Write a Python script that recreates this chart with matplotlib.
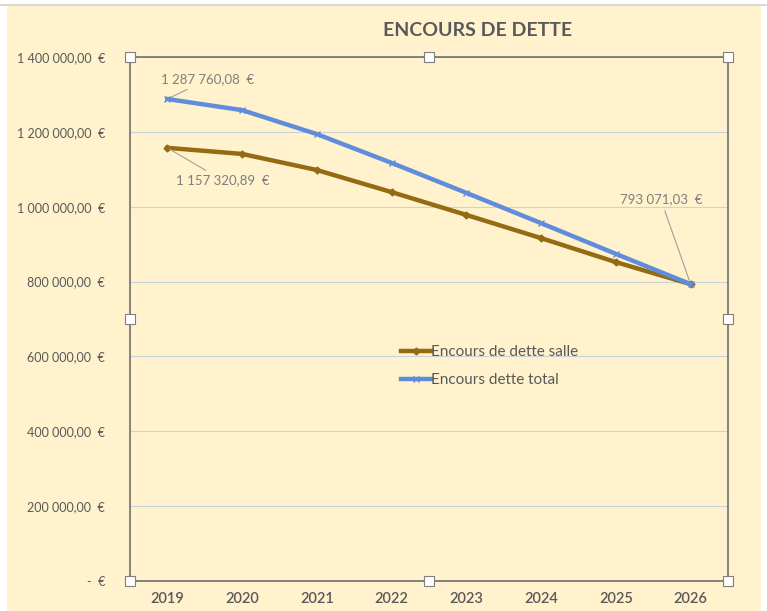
import matplotlib.pyplot as plt
from matplotlib.patches import Rectangle

years = ["2019", "2020", "2021", "2022", "2023", "2024", "2025", "2026"]
salle = [1157320.89, 1141000, 1098000, 1039000, 978000, 916000, 852000, 793071.03]
total = [1287760.08, 1258000, 1194000, 1117000, 1037000, 956000, 874000, 793071.03]
y_ticks = [0, 200000, 400000, 600000, 800000, 1000000, 1200000, 1400000]


def euro(v):
    if v == 0:
        return "-  €"
    s = f"{v:,.2f}".replace(",", " ").replace(".", ",")
    return s + "  €"


plt.rcParams['font.family'] = ['Lato', 'DejaVu Sans']

fig = plt.figure(figsize=(7.67, 6.11), dpi=100)
fig.patch.set_facecolor("white")
fig.patches.append(Rectangle((7 / 767, 0), 754 / 767, 1 - 6 / 611, transform=fig.transFigure,
                             facecolor="#FFF2CC", edgecolor="none", zorder=-10))
fig.patches.append(Rectangle((0, 1 - 6 / 611), 1, 1.5 / 611, transform=fig.transFigure,
                             facecolor="#D9D9D9", edgecolor="none", zorder=-9))

ax = fig.add_axes([130 / 767, 1 - 581 / 611, 598 / 767, 524 / 611])
ax.set_facecolor("#FFF2CC")

x = list(range(len(years)))
ax.plot(x, salle, color="#946A12", lw=3.2, marker="D", ms=3.5, label="Encours de dette salle", zorder=3)
ax.plot(x, total, color="#5F8DDB", lw=3.2, marker="x", ms=5, mew=1, label="Encours dette total", zorder=4)

ax.set_xlim(-0.5, 7.5)
ax.set_ylim(0, 1400000)
ax.set_xticks(x)
ax.set_xticklabels(years, fontsize=10.5, fontweight="semibold")
ax.set_yticks(y_ticks)
ax.set_yticklabels([euro(v) for v in y_ticks], fontsize=9)
ax.tick_params(axis="both", length=0, colors="#595959", pad=8)
ax.tick_params(axis="y", pad=18)
ax.grid(axis="y", color="#C9D3DC", lw=0.8)
for s in ax.spines.values():
    s.set_color("#6E6E6E")
    s.set_linewidth(1.2)

# selection handles
for hx in [-0.5, 3.5, 7.5]:
    for hy in [0, 700000, 1400000]:
        if hx == 3.5 and hy == 700000:
            continue
        ax.plot(hx, hy, marker="s", ms=7, mfc="white", mec="#7F7F7F", mew=0.8,
                clip_on=False, zorder=6)

# data labels
ann = dict(fontsize=9.5, color="#7F7F7F",
           arrowprops=dict(arrowstyle="-", color="#A0A0A0", lw=0.8))
ax.annotate(euro(total[0]), xy=(0, total[0]), xytext=(-0.08, 1340000), ha="left", va="center", **ann)
ax.annotate(euro(salle[0]), xy=(0, salle[0]), xytext=(0.12, 1070000), ha="left", va="center", **ann)
ax.annotate(euro(total[7]), xy=(7, total[7]), xytext=(6.6, 1020000), ha="center", va="center", **ann)

ax.legend(loc="center left", bbox_to_anchor=(0.43, 0.41), frameon=False, fontsize=11,
          labelcolor="#595959", handlelength=2.0, handletextpad=0.0, labelspacing=0.95)

fig.text(478 / 767, 1 - 30 / 611, "ENCOURS DE DETTE",
         ha="center", va="center", fontsize=14, fontweight="bold", color="#595959")

fig.savefig("out.png", dpi=100, facecolor=fig.get_facecolor())
